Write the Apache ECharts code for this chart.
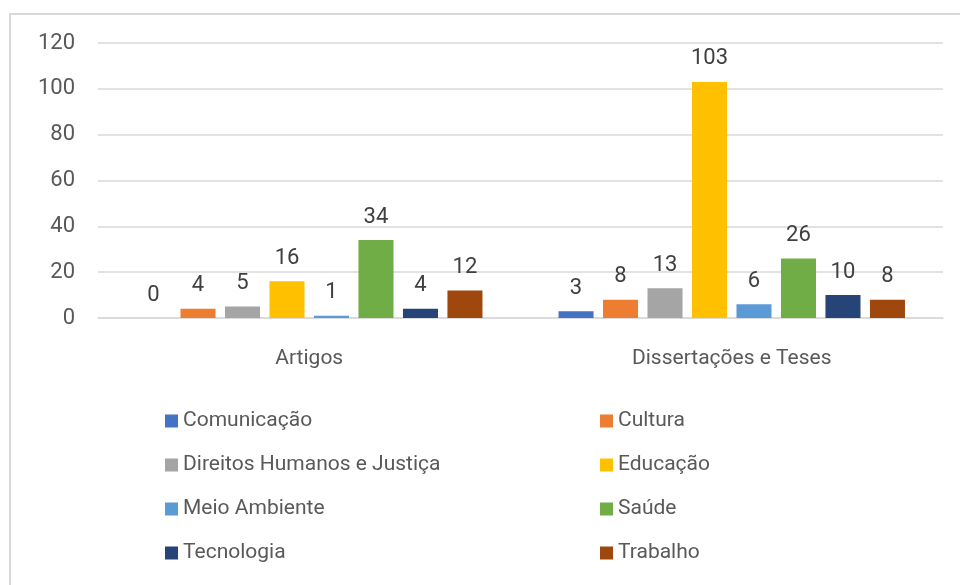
<!DOCTYPE html>
<html>
<head>
<meta charset="utf-8">
<script src="https://cdn.jsdelivr.net/npm/echarts@6/dist/echarts.min.js"></script>
<style>
  html, body { margin: 0; padding: 0; background: #fff; }
  #chart { width: 960px; height: 585px; }
</style>
</head>
<body>
<div id="chart"></div>
<script>
var categories = ["Artigos", "Dissertações e Teses"];
var seriesNames = [
  "Comunicação", "Cultura", "Direitos Humanos e Justiça", "Educação",
  "Meio Ambiente", "Saúde", "Tecnologia", "Trabalho"
];
var comunicacao = [0, 3];
var cultura = [4, 8];
var direitos = [5, 13];
var educacao = [16, 103];
var meioAmbiente = [1, 6];
var saude = [34, 26];
var tecnologia = [4, 10];
var trabalho = [12, 8];
var yTicks = [0, 20, 40, 60, 80, 100, 120];

var values = [comunicacao, cultura, direitos, educacao, meioAmbiente, saude, tecnologia, trabalho];
var colors = ["#4472C4", "#ED7D31", "#A5A5A5", "#FFC000", "#5B9BD5", "#70AD47", "#264478", "#9E480E"];
var font = "Roboto, 'Open Sans', sans-serif";

var chart = echarts.init(document.getElementById("chart"));

var series = seriesNames.map(function (name, i) {
  return {
    name: name,
    type: "bar",
    data: values[i],
    barGap: "27%",
    barCategoryGap: "18%",
    itemStyle: { color: colors[i] },
    label: {
      show: true,
      position: "top",
      distance: 12,
      color: "#404040",
      fontSize: 22,
      fontFamily: font
    }
  };
});

var legendCommon = {
  orient: "vertical",
  top: 410,
  padding: 0,
  icon: "rect",
  itemWidth: 13,
  itemHeight: 13,
  itemGap: 22,
  textStyle: { color: "#595959", fontSize: 21, fontFamily: font, lineHeight: 22 }
};

chart.setOption({
  color: colors,
  animation: false,
  graphic: [{
    type: "rect",
    shape: { x: 10, y: 14, width: 1000, height: 700 },
    style: { fill: null, stroke: "#d9d9d9", lineWidth: 2 },
    silent: true
  }],
  grid: { left: 98, right: 17, top: 43, bottom: 267 },
  xAxis: {
    type: "category",
    data: categories,
    axisLine: { lineStyle: { color: "#d9d9d9", width: 1.5 } },
    axisTick: { show: false },
    axisLabel: { color: "#595959", fontSize: 21, fontFamily: font, margin: 30 }
  },
  yAxis: {
    type: "value",
    min: yTicks[0],
    max: yTicks[yTicks.length - 1],
    interval: 20,
    axisLine: { show: false },
    axisTick: { show: false },
    splitLine: { lineStyle: { color: "#d9d9d9", width: 1.5 } },
    axisLabel: { color: "#595959", fontSize: 22, fontFamily: font, margin: 23 }
  },
  legend: [
    Object.assign({ left: 165, data: [seriesNames[0], seriesNames[2], seriesNames[4], seriesNames[6]] }, legendCommon),
    Object.assign({ left: 600, data: [seriesNames[1], seriesNames[3], seriesNames[5], seriesNames[7]] }, legendCommon)
  ],
  series: series
});
</script>
</body>
</html>
